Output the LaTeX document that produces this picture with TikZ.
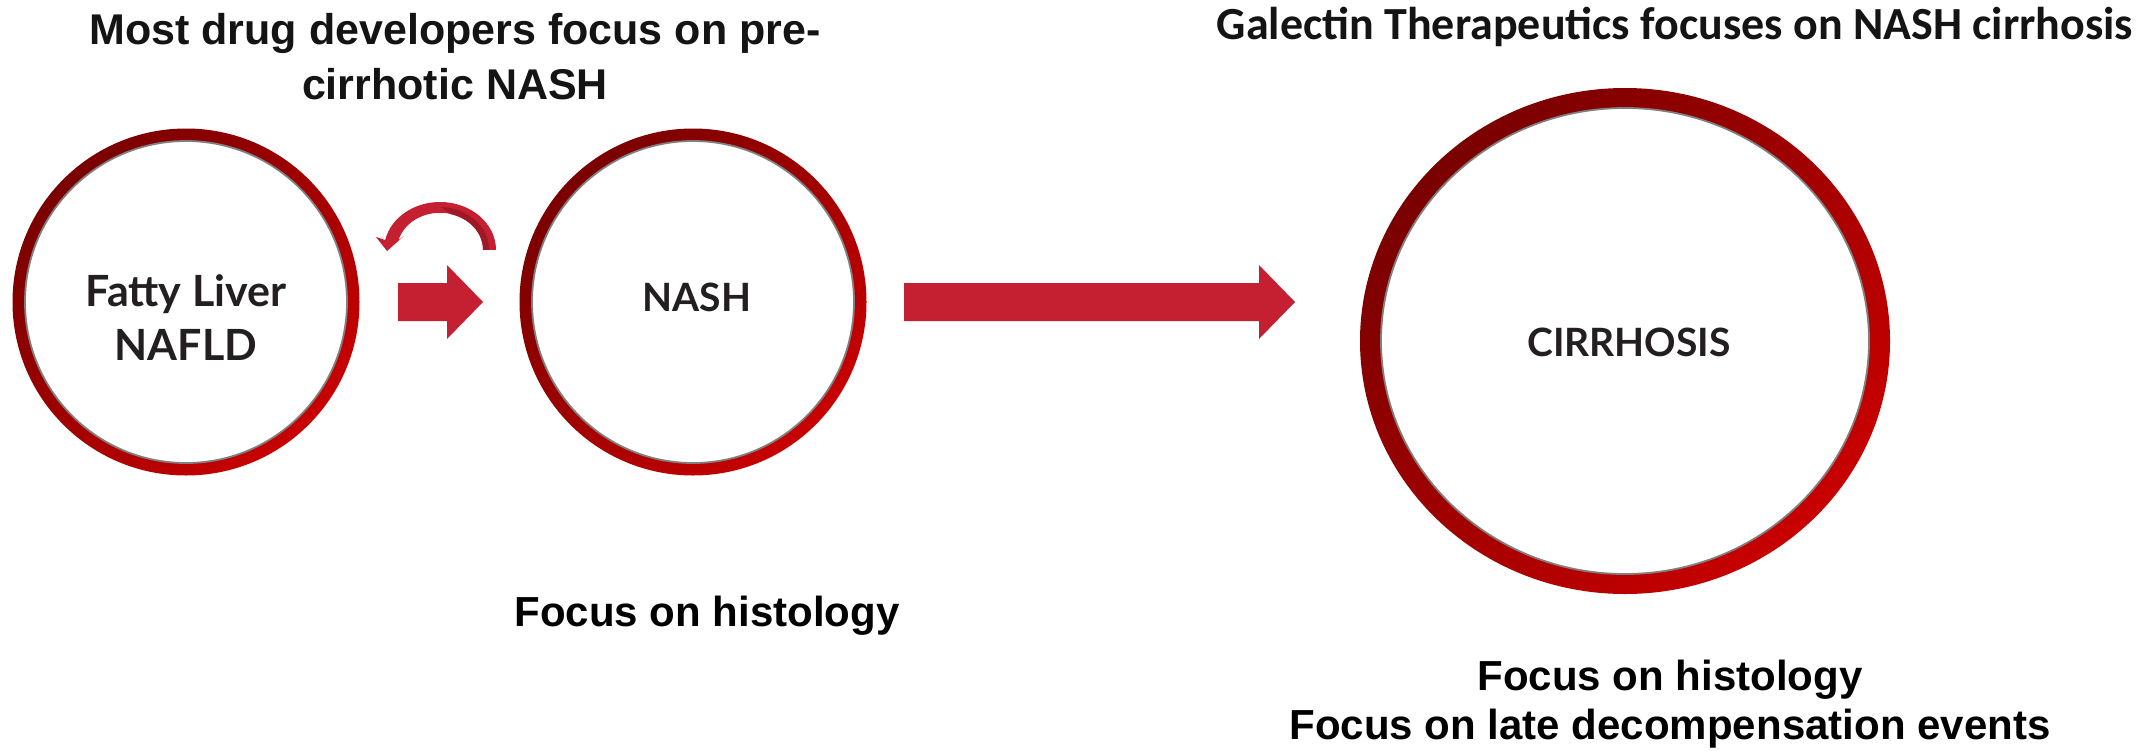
\documentclass[tikz,border=0pt]{standalone}
\usepackage{fontspec}
\usetikzlibrary{shapes.geometric}
\setmainfont{Liberation Sans}
\newfontfamily\latofont{Lato}
\newfontfamily\carlitofont{Carlito}
\definecolor{ringdark}{RGB}{122,0,0}
\definecolor{ringlight}{RGB}{200,0,0}
\definecolor{arrowred}{RGB}{196,32,50}
\definecolor{arrowdark}{RGB}{158,24,40}
\definecolor{labeltext}{RGB}{35,31,32}
\definecolor{rimgray}{RGB}{128,128,128}
\definecolor{headtext}{RGB}{20,20,20}
% #1 centre, #2/#3 outer radii, #4/#5 inner radii
\newcommand\myring[5]{%
  \shade[even odd rule, top color=ringdark, bottom color=ringlight, shading angle=45]
    (#1) ellipse [x radius=#2, y radius=#3] (#1) ellipse [x radius=#4, y radius=#5];
  \draw[rimgray, line width=1.8pt] (#1) ellipse [x radius=#4, y radius=#5];
}
\begin{document}
\begin{tikzpicture}[x=1pt,y=1pt,
  stage/.style={circle, minimum size=#1, inner sep=0pt},
  stagelabel/.style={font=\latofont\bfseries\fontsize{39}{52}\selectfont, text=labeltext, align=center, inner sep=0pt},
  biglabel/.style={font=\latofont\bfseries\fontsize{43}{54}\selectfont, text=labeltext, align=center, inner sep=0pt},
  heading/.style={font=\bfseries\fontsize{43}{55}\selectfont, text=headtext, align=center, inner sep=0pt},
  headingc/.style={font=\carlitofont\bfseries\fontsize{46}{55}\selectfont, text=headtext, align=center, inner sep=0pt},
  note/.style={font=\bfseries\fontsize{42}{49}\selectfont, text=black, align=center, inner sep=0pt},
  blockarrow/.style={fill=arrowred}
]
\fill[white] (0,0) rectangle (2154,-750);
\useasboundingbox (0,0) rectangle (2154,-750);

% stages
\node[stage=322pt] (nafld) at (186,-302) {};
\node[stage=322pt] (nash) at (693,-302) {};
\node[ellipse, minimum width=486pt, minimum height=466pt, inner sep=0pt] (cirr) at (1625,-341) {};

\myring{nafld.center}{173.5}{173.5}{161}{161}
\myring{nash.center}{173.5}{173.5}{161}{161}
\myring{cirr.center}{265}{253}{244}{233}

\node[biglabel] (nafldtext) at (186,-318) {Fatty Liver\\NAFLD};
\node[stagelabel] (nashtext) at (697,-297) {NASH};
\node[stagelabel] (cirrtext) at (1629,-342) {CIRRHOSIS};

% straight block arrows
\fill[blockarrow] (398,-283) -- (447,-283) -- (447,-265) -- (483,-302) -- (447,-339) -- (447,-321) -- (398,-321) -- cycle;
\fill[blockarrow] (904,-283) -- (1259,-283) -- (1259,-265) -- (1295,-302) -- (1259,-339) -- (1259,-321) -- (904,-321) -- cycle;

% curved arrow
\fill[arrowred] (496,-250) arc[start angle=0, end angle=168, x radius=56, y radius=48]
  -- (376,-237) -- (387,-251) -- (404,-236) -- (398.5,-240.2)
  arc[start angle=165, end angle=0, x radius=43, y radius=37] -- cycle;
\fill[arrowdark] (483,-250) arc[start angle=0, end angle=75, x radius=43, y radius=37]
  -- (441,-207) arc[start angle=88, end angle=0, x radius=50, y radius=43] -- cycle;

% headings
\node[heading] (lefthead) at (455,-57) {Most drug developers focus on pre-\\cirrhotic NASH};
\node[headingc] (righthead) at (1675,-27) {Galectin Therapeutics focuses on NASH cirrhosis};

% notes
\node[note] (leftnote) at (707,-616) {Focus on histology};
\node[note] (rightnote) at (1670,-704) {Focus on histology\\Focus on late decompensation events};
\end{tikzpicture}
\end{document}
